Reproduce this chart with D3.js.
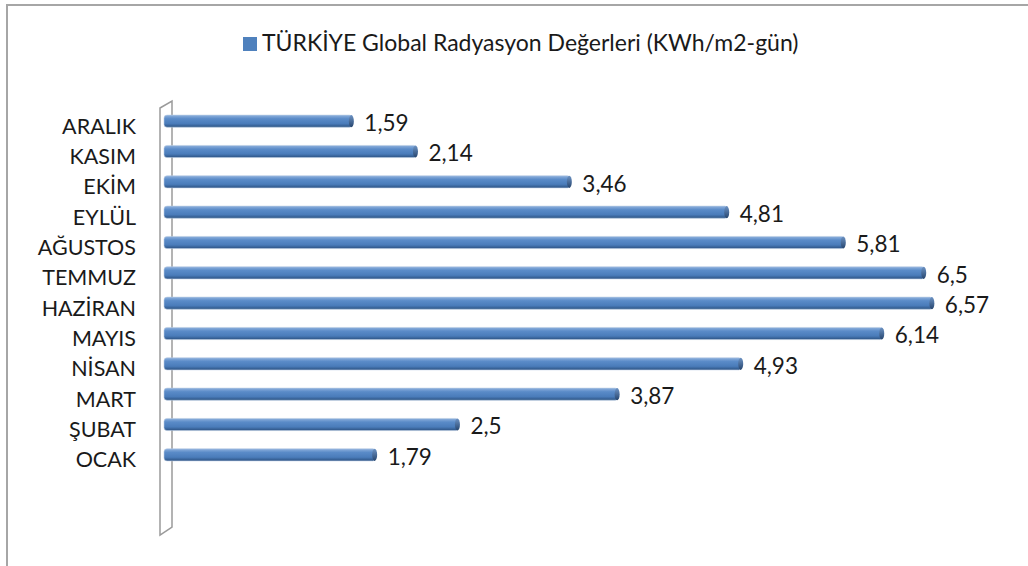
<!DOCTYPE html>
<html>
<head>
<meta charset="utf-8">
<script src="https://cdn.jsdelivr.net/npm/d3@7"></script>
<style>
  body { margin: 0; background: #fff; }
  svg text { font-family: Lato, "Noto Sans", sans-serif; fill: #1a1a1a; }
</style>
</head>
<body>
<div id="chart-container"></div>
<script>
// months top to bottom, as in the picture
const months = ["ARALIK", "KASIM", "EKİM", "EYLÜL", "AĞUSTOS", "TEMMUZ", "HAZİRAN", "MAYIS", "NİSAN", "MART", "ŞUBAT", "OCAK"];
const radiation = [1.59, 2.14, 3.46, 4.81, 5.81, 6.5, 6.57, 6.14, 4.93, 3.87, 2.5, 1.79];
const seriesName = "TÜRKİYE Global Radyasyon Değerleri (KWh/m2-gün)";

const width = 1028, height = 566;
const data = months.map((m, i) => ({ month: m, value: radiation[i] }));

const svg = d3.select("#chart-container")
  .append("svg")
    .attr("width", width)
    .attr("height", height);

// outer chart border
svg.append("path")
  .attr("d", `M7,${height} L7,5 L${width},5`)
  .attr("fill", "none")
  .attr("stroke", "#a6a6a6")
  .attr("stroke-width", 2);

// scales
const x = d3.scaleLinear().domain([0, 7]).range([167, 983]);
const y = d3.scaleBand().domain(months).range([106, 470])
  .paddingInner(0.6).paddingOuter(0.3);

// gradients for the 3d-looking bars
const defs = svg.append("defs");
const grad = defs.append("linearGradient")
  .attr("id", "barGrad").attr("x1", 0).attr("y1", 0).attr("x2", 0).attr("y2", 1);
grad.append("stop").attr("offset", "0%").attr("stop-color", "#8fb1dd");
grad.append("stop").attr("offset", "30%").attr("stop-color", "#5a8bc8");
grad.append("stop").attr("offset", "70%").attr("stop-color", "#4a7cba");
grad.append("stop").attr("offset", "100%").attr("stop-color", "#2c5282");

const capGrad = defs.append("linearGradient")
  .attr("id", "capGrad").attr("x1", 0).attr("y1", 0).attr("x2", 0).attr("y2", 1);
capGrad.append("stop").attr("offset", "0%").attr("stop-color", "#6d93c4");
capGrad.append("stop").attr("offset", "100%").attr("stop-color", "#26456e");

// the thin 3d wall of the category axis
const wallTop = 101, wallBottom = 527, depth = 12, wallLeft = 160;
svg.append("path")
  .attr("d", `M${wallLeft},${wallTop + 7} L${wallLeft + depth},${wallTop} L${wallLeft + depth},${wallBottom} L${wallLeft},${wallBottom + 8} Z`)
  .attr("fill", "#fff")
  .attr("stroke", "#9a9a9a")
  .attr("stroke-width", 1.5);

// bars
const bars = svg.selectAll(".bar")
  .data(data)
  .join("g")
    .attr("class", "bar");

bars.append("rect")
  .attr("x", x(0) - 3)
  .attr("y", d => y(d.month))
  .attr("width", d => x(d.value) - x(0) + 3)
  .attr("height", y.bandwidth())
  .attr("rx", 3)
  .attr("fill", "url(#barGrad)")
  .attr("stroke", "#b9cbe2")
  .attr("stroke-width", 0.6);

bars.append("ellipse")
  .attr("cx", d => x(d.value) - 1)
  .attr("cy", d => y(d.month) + y.bandwidth() / 2)
  .attr("rx", 2.5)
  .attr("ry", y.bandwidth() / 2)
  .attr("fill", "url(#capGrad)");

// value labels
bars.append("text")
  .attr("x", d => x(d.value) + 12)
  .attr("y", d => y(d.month) + y.bandwidth() / 2 + 4)
  .attr("dominant-baseline", "middle")
  .style("font-size", "22.5px")
  .text(d => String(d.value).replace(".", ","));

// category labels
svg.selectAll(".cat")
  .data(months)
  .join("text")
    .attr("class", "cat")
    .attr("x", 136)
    .attr("y", d => y(d) + y.bandwidth() / 2 + 7)
    .attr("text-anchor", "end")
    .attr("dominant-baseline", "middle")
    .style("font-size", "21.5px")
    .text(d => d);

// legend
const legend = svg.append("g").attr("transform", "translate(243,37)");
legend.append("rect")
  .attr("width", 14).attr("height", 14)
  .attr("fill", "#4f81bd");
legend.append("text")
  .attr("x", 19)
  .attr("y", 8)
  .attr("dominant-baseline", "middle")
  .style("font-size", "23px")
  .text(seriesName);
</script>
</body>
</html>
